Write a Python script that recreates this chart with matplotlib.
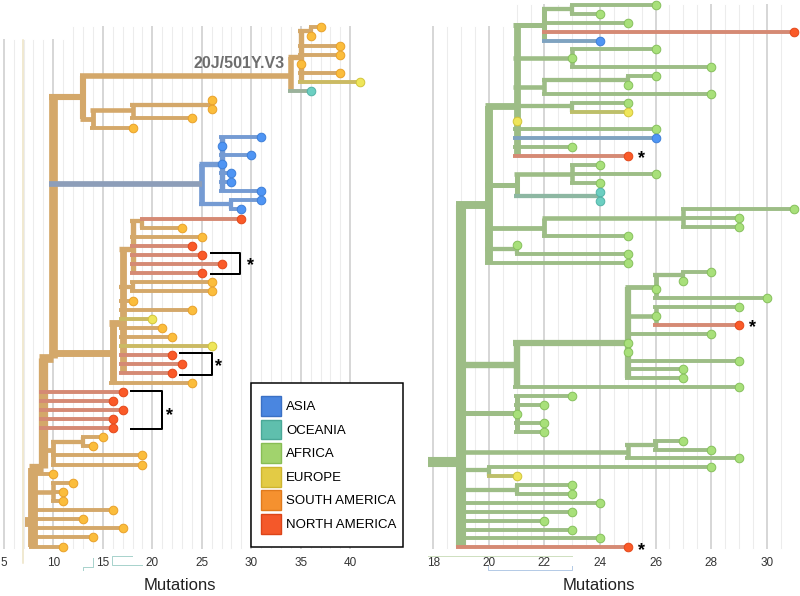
import math
from collections import defaultdict

import matplotlib
matplotlib.use("Agg")
import matplotlib.pyplot as plt
import matplotlib.transforms as mtransforms
import numpy as np
from matplotlib.colors import to_rgb
from matplotlib.patches import Patch, Rectangle

plt.rcParams["font.family"] = ["Liberation Sans", "DejaVu Sans"]

# ---------------------------------------------------------------- data
region_keys = ["AS", "OC", "AF", "EU", "SA", "NA"]
region_labels = ["ASIA", "OCEANIA", "AFRICA", "EUROPE", "SOUTH AMERICA", "NORTH AMERICA"]

# left tree: internal nodes (mutations, row position of the incoming branch)
left_node_names = ["root", "T8", "T9", "T10", "n13", "n34", "n35", "n36", "n14", "n18", "n26",
                   "n25", "n27", "n28", "A", "B", "C", "E", "D", "F", "G", "H"]
left_node_parent = [None, "root", "T8", "T9", "T10", "n13", "n34", "n35", "n13", "n14", "n18",
                    "T10", "n25", "n25", "T10", "A", "B", "C", "B", "T9", "F", "T8"]
left_node_mut = [7.6, 8, 9, 10, 13, 34, 35, 36, 14, 18, 26,
                 25, 27, 28, 16, 17, 18, 19, 18, 10, 13, 10]
left_node_row = [54.3, 54.3, 48.4, 36.3, 7.6, 5.35, 3.3, 0.4, 10.1, 9.1, 8.5,
                 17.2, 15.0, 19.4, 35.8, 32.5, 24.3, 21.3, 28.5, 46.4, 45.5, 51.0]
left_node_region = ["SA"] * 11 + ["AS"] * 3 + ["SA"] * 8

# left tree: tips, one per row from the top
left_tip_parent = ["n36", "n36", "n35", "n35", "n35", "n35", "n35", "n34", "n26", "n26", "n18", "n14",
                   "n27", "n27", "n27", "n27", "n27", "n27", "n27", "n28", "n28",
                   "E", "E", "C", "C", "C", "C", "C", "D", "D",
                   "B", "B", "B", "B", "B", "B", "B", "B", "B", "A",
                   "T9", "T9", "T9", "T9", "T9", "G", "G", "F", "F",
                   "T8", "H", "H", "H", "T8", "T8", "T8", "T8", "T8"]
left_tip_mut = [37, 36, 39, 39, 35, 39, 41, 36, 26, 26, 24, 18,
                31, 27, 30, 27, 28, 28, 31, 31, 29,
                29, 23, 25, 24, 25, 27, 25, 26, 26,
                18, 24, 20, 21, 22, 26, 22, 23, 22, 24,
                17, 16, 17, 16, 16, 15, 14, 19, 19,
                10, 12, 11, 11, 16, 13, 17, 14, 11]
left_tip_region = (["SA"] * 6 + ["EU", "OC"] + ["SA"] * 4 + ["AS"] * 9
                   + ["NA", "SA", "SA", "NA", "NA", "NA", "NA", "SA", "SA"]
                   + ["SA", "SA", "EU", "SA", "SA", "EU", "NA", "NA", "NA", "SA"]
                   + ["NA"] * 5 + ["SA"] * 4 + ["SA"] * 9)

# right tree: internal nodes
right_node_names = ["root", "R19", "Q", "P", "P1", "P1a", "P2", "P3", "P3a", "P4", "S", "S1", "S2",
                    "U", "U1", "V", "W", "X", "X1", "X1a", "X2", "Y", "Z", "Z1", "Zb", "Zc"]
right_node_parent = [None, "root", "R19", "Q", "P", "P1", "P", "P", "P3", "P", "Q", "S", "S",
                     "Q", "U", "Q", "R19", "W", "X", "X1", "X", "R19", "R19", "Z", "R19", "R19"]
right_node_mut = [18.0, 19, 20, 21, 22, 23, 23, 22, 25, 23, 21, 23, 24,
                  22, 27, 21, 21, 25, 26, 27, 26, 21, 25, 26, 20, 21]
right_node_row = [51.4, 51.4, 22.5, 11.4, 2.25, 0.4, 6.0, 9.2, 8.4, 11.4, 20.25, 19.0, 21.5,
                  25.05, 24.0, 27.4, 40.5, 38.0, 31.7, 30.4, 35.0, 45.9, 50.25, 49.5, 52.3, 54.5]
right_node_region = ["AF"] * 12 + ["OC"] + ["AF"] * 13

# right tree: tips
right_tip_parent = ["P1a", "P1a", "P1", "P1", "P1", "P2", "P2", "P2", "P3a", "P3a", "P3", "P4", "P4",
                    "P", "P", "P", "P", "P", "S1", "S1", "S1", "S2", "S2", "U1", "U1", "U1", "U",
                    "V", "V", "Q", "X1a", "X1a", "X1", "X1", "X2", "X2", "X2",
                    "X", "X", "X", "X", "X", "X", "W", "Y", "Y", "Y", "Y", "Y",
                    "Z1", "Z1", "Z", "Zb", "Zb", "Zc", "Zc",
                    "R19", "R19", "R19", "R19", "R19", "R19"]
right_tip_mut = [26, 24, 25, 31, 24, 26, 23, 28, 26, 25,
                 28, 25, 25, 21, 26, 26, 23, 25, 24, 26,
                 24, 24, 24, 31, 29, 29, 25, 21, 25, 25,
                 28, 27, 26, 30, 29, 26, 29, 28, 25, 25,
                 29, 27, 27, 29, 23, 22, 21, 22, 22, 27,
                 28, 29, 28, 21, 23, 23, 24, 23, 22, 23,
                 24, 25]
right_tip_region = ["AF"] * 62
for i, g in [(3, "NA"), (4, "AS"), (12, "EU"), (13, "EU"), (15, "AS"), (17, "NA"),
             (21, "OC"), (22, "OC"), (36, "NA"), (53, "EU"), (61, "NA")]:
    right_tip_region[i] = g

left_ticks = [5, 10, 15, 20, 25, 30, 35, 40]
right_ticks = [18, 20, 22, 24, 26, 28, 30]

# clusters marked with brackets / asterisks (mutations, rows)
left_brackets = [(25.9, 28.9, 24.74, 27.08), (22.8, 26.0, 35.8, 38.2), (17.85, 20.95, 39.9, 44.1)]
left_stars = [(29.9, 25.9), (26.7, 37.0), (21.7, 42.4)]
right_stars = [(25.5, 17.0), (29.5, 36.0), (25.5, 61.1)]

# ---------------------------------------------------------------- style
PT = 0.72  # points per pixel at dpi 100
BRANCH = {"AS": "#759bd3", "OC": "#88b5ab", "AF": "#9dbd86", "EU": "#c8c060",
          "SA": "#d4a86a", "NA": "#d58a74"}
TIP_FACE = {"AS": "#4f95f4", "OC": "#6ccfc2", "AF": "#a8e07a", "EU": "#efe65a",
            "SA": "#fbbd3c", "NA": "#fa5a28"}
TIP_EDGE = {"AS": "#3d7fd8", "OC": "#52b3a6", "AF": "#86c05c", "EU": "#d2c43a",
            "SA": "#e9a12a", "NA": "#e4481a"}
LEG_FACE = {"AS": "#4a86e0", "OC": "#5fbfad", "AF": "#a1d36d", "EU": "#e3cb45",
            "SA": "#f5912f", "NA": "#f4582a"}
LEG_EDGE = {"AS": "#3a70c4", "OC": "#4aa897", "AF": "#88bd55", "EU": "#cdb530",
            "SA": "#e07a1c", "NA": "#dc4418"}

W, H = 800, 596


def mix(c1, c2, t):
    a, b = np.array(to_rgb(c1)), np.array(to_rgb(c2))
    return tuple(a * t + b * (1 - t))


def build(names, parents, muts, rows, regions, tip_parent, tip_mut, tip_region):
    nodes = {}
    for n, p, m, r, g in zip(names, parents, muts, rows, regions):
        nodes[n] = {"parent": p, "x": m, "y": r, "region": g, "tip": False}
    for i, (p, m, g) in enumerate(zip(tip_parent, tip_mut, tip_region)):
        nodes[f"tip{i}"] = {"parent": p, "x": m, "y": float(i), "region": g, "tip": True}
    kids = defaultdict(list)
    for n, d in nodes.items():
        if d["parent"] is not None:
            kids[d["parent"]].append(n)

    def ntips(n):
        return 1 if nodes[n]["tip"] else sum(ntips(c) for c in kids[n])

    for n in nodes:
        nodes[n]["w"] = 3.0 + 0.9 * math.sqrt(ntips(n))
    return nodes, kids


def draw_tree(ax, nodes, kids, px_per_mut):
    for n, d in nodes.items():
        col = BRANCH[d["region"]]
        lw = d["w"] * PT
        if kids[n]:
            ys = [nodes[c]["y"] for c in kids[n]] + [d["y"]]
            ax.plot([d["x"], d["x"]], [min(ys), max(ys)], color=col, lw=lw,
                    solid_capstyle="butt", zorder=1)
        p = d["parent"]
        if p is not None and d["x"] > nodes[p]["x"]:
            pr = nodes[p]["region"]
            hcol = col
            if pr != d["region"] and d["region"] != "NA":
                hcol = mix(col, BRANCH[pr], 0.75)
            x0 = nodes[p]["x"] - nodes[p]["w"] / 2 / px_per_mut
            ax.plot([x0, d["x"]], [d["y"], d["y"]], color=hcol, lw=lw,
                    solid_capstyle="butt", zorder=2)
    for n, d in nodes.items():
        if d["tip"]:
            g = d["region"]
            ax.plot(d["x"], d["y"], "o", ms=6.2, mfc=TIP_FACE[g], mec=TIP_EDGE[g],
                    mew=0.7, zorder=4)


def draw_stars(ax, stars):
    tr = mtransforms.offset_copy(ax.transData, fig=ax.figure, y=-2.5, units="dots")
    for x, y in stars:
        ax.text(x, y, "*", ha="center", va="center", fontsize=13, fontweight="bold",
                zorder=5, transform=tr)


def place(fig, box, x_ref, px_mut, y_ref, px_row):
    # box = (left, top, right, bottom) in pixels
    l, t, r, b = box
    ax = fig.add_axes([l / W, 1 - b / H, (r - l) / W, (b - t) / H])
    ax.set_xlim(x_ref[1] + (l - x_ref[0]) / px_mut, x_ref[1] + (r - x_ref[0]) / px_mut)
    ax.set_ylim((b - y_ref) / px_row, (t - y_ref) / px_row)
    for s in ax.spines.values():
        s.set_visible(False)
    ax.set_yticks([])
    ax.tick_params(axis="x", length=0, pad=2.8, labelsize=8.5, labelcolor="#333333")
    return ax


fig = plt.figure(figsize=(W / 100, H / 100), dpi=100)

# ---------------- left panel
L_PX = 9.9
axl = place(fig, (0, 0, 410, 553), (53.3, 10.0), L_PX, 27.3, 9.11)
for m in range(5, 41):
    major = m % 5 == 0
    top = 1.39 if m < 12 else -0.03
    axl.plot([m, m], [top, 57.16], color="#d7d7d7" if major else "#ececec",
             lw=(2.0 if major else 1.1) * PT, zorder=0)
axl.plot([6.97, 6.97], [1.4, 58.8], color="#ece2c2", lw=1.5 * PT, zorder=0, clip_on=False)
for seg in ([(12.97, 59.57), (12.97, 59.2), (14.04, 59.2), (14.04, 58.3)],
            [(17.92, 58.0), (15.93, 58.0), (15.93, 59.02), (18.93, 59.02)]):
    xs, ys = zip(*seg)
    axl.plot(xs, ys, color="#a9d3cd", lw=1.0 * PT, clip_on=False)

lnodes, lkids = build(left_node_names, left_node_parent, left_node_mut, left_node_row,
                      left_node_region, left_tip_parent, left_tip_mut, left_tip_region)
draw_tree(axl, lnodes, lkids, L_PX)

axl.text(33.4, 4.0, "20J/501Y.V3", ha="right", va="center", fontsize=11.5,
         fontweight="bold", color="#6e6e6e", zorder=5)
for x0, x1, y0, y1 in left_brackets:
    axl.plot([x0, x1, x1, x0], [y0, y0, y1, y1], color="black", lw=2.0 * PT, zorder=3)
draw_stars(axl, left_stars)

axl.set_xticks(left_ticks)
axl.set_xticklabels([str(t) for t in left_ticks])
axl.set_xlabel("Mutations", fontsize=12, color="#222222")
axl.xaxis.label.set_va("center")
axl.xaxis.set_label_coords(179.5 / 410, -33 / 553)

# legend: contents placed by the library, frame drawn at the reference spot
axl.add_patch(Rectangle((251 / W, 1 - 547 / H), 152 / W, 164 / H, transform=fig.transFigure,
                        clip_on=False, facecolor="white", edgecolor="black", lw=1.5 * PT,
                        zorder=5))
handles = [Patch(facecolor=LEG_FACE[k], edgecolor=LEG_EDGE[k], lw=1.0) for k in region_keys]
leg = axl.legend(handles, region_labels, loc="upper left",
                 bbox_to_anchor=(261 / W, 1 - 396 / H), bbox_transform=fig.transFigure,
                 borderaxespad=0, borderpad=0, fontsize=9.5, frameon=False,
                 handlelength=1.52, handleheight=1.95, handletextpad=0.38,
                 labelspacing=0.27)
leg.set_zorder(6)

# ---------------- right panel
R_PX = 27.78
axr = place(fig, (415, 0, 800, 553), (433.3, 18.0), R_PX, 5.0, 8.89)
for m in np.arange(18, 30.51, 0.5):
    major = m % 2 == 0
    top = 2.47 if m < 21 else 0.0
    axr.plot([m, m], [top, 61.08], color="#d7d7d7" if major else "#ececec",
             lw=(2.0 if major else 1.1) * PT, zorder=0)
axr.plot([17.81, 22.99], [61.98, 61.98], color="#cfe0c0", lw=1.0 * PT, clip_on=False)
axr.plot([19.97, 19.97, 22.99, 22.99], [63.1, 63.55, 63.55, 63.1], color="#b5cbe6",
         lw=1.0 * PT, clip_on=False)

rnodes, rkids = build(right_node_names, right_node_parent, right_node_mut, right_node_row,
                      right_node_region, right_tip_parent, right_tip_mut, right_tip_region)
draw_tree(axr, rnodes, rkids, R_PX)
draw_stars(axr, right_stars)

axr.set_xticks(right_ticks)
axr.set_xticklabels([str(t) for t in right_ticks])
axr.set_xlabel("Mutations", fontsize=12, color="#222222")
axr.xaxis.label.set_va("center")
axr.xaxis.set_label_coords((599 - 415) / 385, -33 / 553)

fig.savefig("out.png", dpi=100)
